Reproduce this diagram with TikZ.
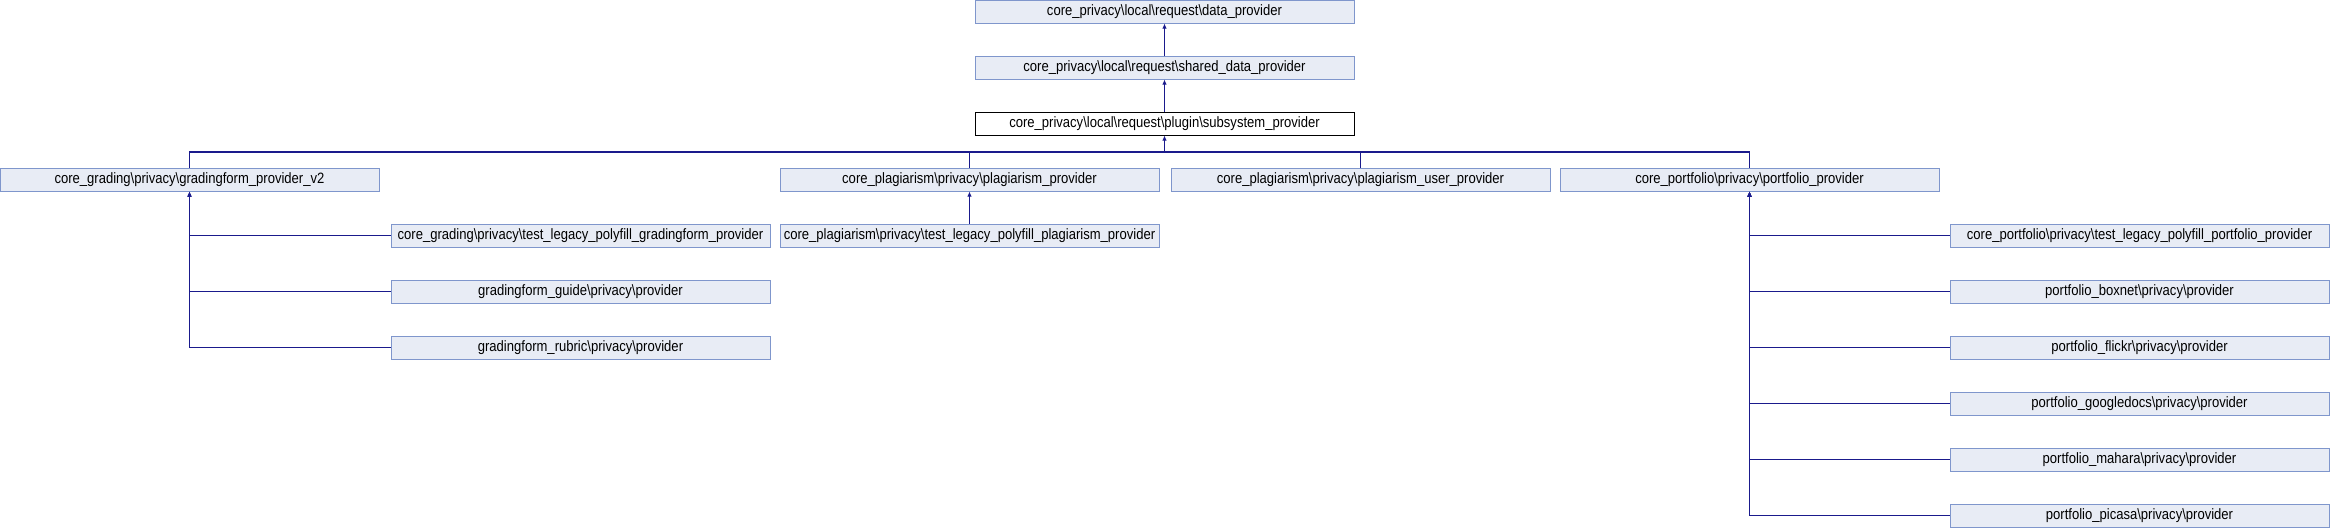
\documentclass[tikz,border=0pt]{standalone}
\usepackage{fontspec}
\newfontfamily\dfont[FakeStretch=0.87]{Liberation Sans}
\usetikzlibrary{arrows.meta}
\definecolor{boxfill}{HTML}{E8ECF5}
\definecolor{boxline}{HTML}{7F96CC}
\definecolor{edgecol}{HTML}{1A1A8C}
\tikzset{
  cls/.style={draw=boxline, fill=boxfill, line width=1pt, minimum width=379pt, minimum height=23pt, inner sep=0pt,
    font=\dfont\fontsize{15}{18}\selectfont},
  focus/.style={cls, draw=black, fill=white},
  edge/.style={draw=edgecol, line width=1.3pt, -{Latex[length=5pt,width=4.5pt]}},
  link/.style={draw=edgecol, line width=1.3pt}
}
\begin{document}
\begin{tikzpicture}[x=1pt,y=-1pt]
\useasboundingbox (0,0) rectangle (2330,528);
% top chain
\node[cls] (top) at (1164.5,11.5) {core\_privacy\textbackslash local\textbackslash request\textbackslash data\_provider};
\node[cls] (shared) at (1164.5,67.5) {core\_privacy\textbackslash local\textbackslash request\textbackslash shared\_data\_provider};
\node[focus] (sub) at (1164.5,123.5) {core\_privacy\textbackslash local\textbackslash request\textbackslash plugin\textbackslash subsystem\_provider};
% second row
\node[cls] (g2) at (189.5,179.5) {core\_grading\textbackslash privacy\textbackslash gradingform\_provider\_v2};
\node[cls] (pp) at (969.5,179.5) {core\_plagiarism\textbackslash privacy\textbackslash plagiarism\_provider};
\node[cls] (pu) at (1360.5,179.5) {core\_plagiarism\textbackslash privacy\textbackslash plagiarism\_user\_provider};
\node[cls] (pf) at (1749.5,179.5) {core\_portfolio\textbackslash privacy\textbackslash portfolio\_provider};
% grading children
\node[cls] (tlg) at (580.5,235.5) {core\_grading\textbackslash privacy\textbackslash test\_legacy\_polyfill\_gradingform\_provider};
\node[cls] (guide) at (580.5,291.5) {gradingform\_guide\textbackslash privacy\textbackslash provider};
\node[cls] (rubric) at (580.5,347.5) {gradingform\_rubric\textbackslash privacy\textbackslash provider};
% plagiarism child
\node[cls] (tlp) at (969.5,235.5) {core\_plagiarism\textbackslash privacy\textbackslash test\_legacy\_polyfill\_plagiarism\_provider};
% portfolio children
\node[cls] (tlf) at (2139.5,235.5) {core\_portfolio\textbackslash privacy\textbackslash test\_legacy\_polyfill\_portfolio\_provider};
\node[cls] (boxnet) at (2139.5,291.5) {portfolio\_boxnet\textbackslash privacy\textbackslash provider};
\node[cls] (flickr) at (2139.5,347.5) {portfolio\_flickr\textbackslash privacy\textbackslash provider};
\node[cls] (gdocs) at (2139.5,403.5) {portfolio\_googledocs\textbackslash privacy\textbackslash provider};
\node[cls] (mahara) at (2139.5,459.5) {portfolio\_mahara\textbackslash privacy\textbackslash provider};
\node[cls] (picasa) at (2139.5,515.5) {portfolio\_picasa\textbackslash privacy\textbackslash provider};
% edges
\draw[edge] (shared) -- (top);
\draw[edge] (sub) -- (shared);
\coordinate (bar) at (1164.5,152);
\draw[link] (g2.north) |- (bar);
\draw[link] (pp.north) |- (bar);
\draw[link] (pu.north) |- (bar);
\draw[link] (pf.north) |- (bar);
\draw[edge] (bar) -- (sub.south);
\foreach \c in {tlg,guide,rubric} \draw[edge] (\c.west) -| (g2.south);
\draw[edge] (tlp) -- (pp);
\foreach \c in {tlf,boxnet,flickr,gdocs,mahara,picasa} \draw[edge] (\c.west) -| (pf.south);
\end{tikzpicture}
\end{document}
